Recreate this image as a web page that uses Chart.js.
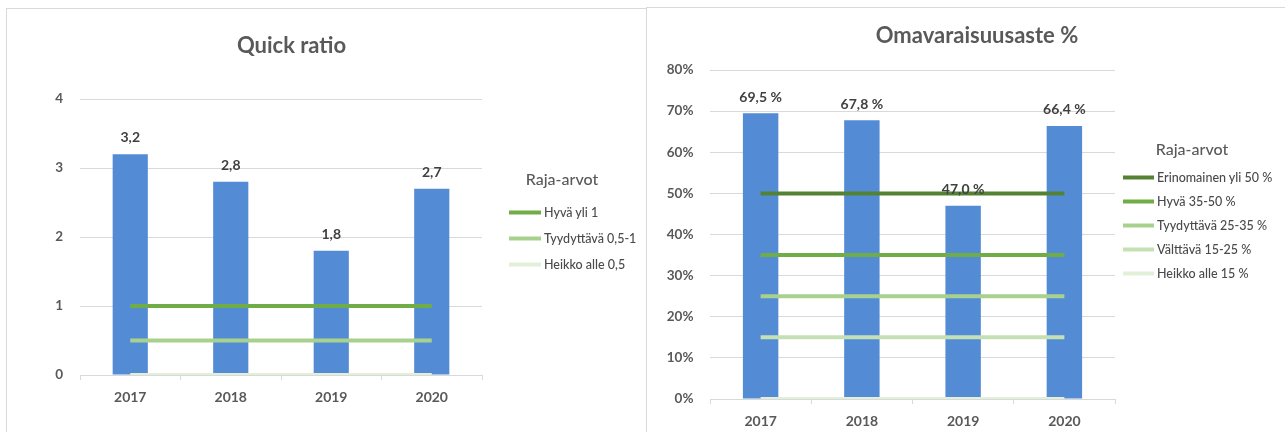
<!DOCTYPE html>
<html lang="fi">
<head>
<meta charset="utf-8">
<title>Quick ratio ja omavaraisuusaste</title>
<script src="https://cdn.jsdelivr.net/npm/chart.js@4.4.1/dist/chart.umd.min.js"></script>
<style>
  body { margin: 0; width: 1285px; height: 432px; overflow: hidden; background: #fff; position: relative; font-family: Lato, 'Open Sans', sans-serif; }
  .panel { position: absolute; height: 440px; border-left: 1px solid #d9d9d9; border-top: 1px solid #d9d9d9; }
  canvas { position: absolute; top: 0; }
  .legend-title { position: absolute; transform: translate(-50%, -50%); font-size: 16px; font-weight: 500; color: #595959; white-space: nowrap; }
  .legend-item { position: absolute; transform: translateY(-50%); display: flex; align-items: center; font-size: 12.5px; font-weight: 500; color: #4a4a4a; white-space: nowrap; }
  .legend-item .swatch { display: inline-block; height: 4px; margin-right: 3px; }
</style>
</head>
<body>
<div class="panel" style="left:6px; top:8px; width:640px;"></div>
<div class="panel" style="left:646px; top:7px; width:660px;"></div>
<canvas id="quickChart" width="583" height="432" style="left:0px;"></canvas>
<canvas id="equityChart" width="654" height="432" style="left:650px;"></canvas>
<div id="legends"></div>
<script>
// Vuodet
const years = ['2017', '2018', '2019', '2020'];

// Quick ratio
const quickValues = [3.2, 2.8, 1.8, 2.7];
const quickLimitNames = ['Hyvä yli 1', 'Tyydyttävä 0,5-1', 'Heikko alle 0,5'];
const quickLimitValues = [
    [1, 1, 1, 1],
    [0.5, 0.5, 0.5, 0.5],
    [0, 0, 0, 0]
];
const quickTicks = [0, 1, 2, 3, 4];

// Omavaraisuusaste %
const equityValues = [69.5, 67.8, 47.0, 66.4];
const equityLimitNames = ['Erinomainen yli 50 %', 'Hyvä 35-50 %', 'Tyydyttävä 25-35 %', 'Välttävä 15-25 %', 'Heikko alle 15 %'];
const equityLimitValues = [
    [50, 50, 50, 50],
    [35, 35, 35, 35],
    [25, 25, 25, 25],
    [15, 15, 15, 15],
    [0, 0, 0, 0]
];
const equityTicks = [0, 10, 20, 30, 40, 50, 60, 70, 80];

// Värit
const barColor = '#538cd5';
const quickLimitColors = ['#70ad47', '#a9d18e', '#e2f0d9'];
const equityLimitColors = ['#548235', '#70ad47', '#a9d18e', '#c5e0b4', '#e2f0d9'];

const fontFamily = "Lato, 'Open Sans', sans-serif";
const fi = v => v.toFixed(1).replace('.', ',');

// Arvot pylväiden päälle
const barLabels = {
    id: 'barLabels',
    afterDatasetsDraw(chart, args, opts) {
        const ctx = chart.ctx;
        const meta = chart.getDatasetMeta(0);
        const data = chart.data.datasets[0].data;
        ctx.save();
        ctx.font = 'bold 14px ' + fontFamily;
        ctx.fillStyle = '#404040';
        ctx.textAlign = 'center';
        ctx.textBaseline = 'middle';
        meta.data.forEach((bar, i) => {
            ctx.fillText(opts.format(data[i]), bar.x, bar.y - opts.offset);
        });
        ctx.restore();
    }
};

function makeChart(id, s) {
    const datasets = [{
        type: 'bar',
        data: s.values,
        backgroundColor: barColor,
        categoryPercentage: 1,
        barPercentage: 0.35,
        order: 1
    }];
    s.limitValues.forEach((vals, i) => {
        datasets.push({
            type: 'line',
            label: s.limitNames[i],
            data: vals,
            borderColor: s.limitColors[i],
            backgroundColor: s.limitColors[i],
            borderWidth: 4,
            pointRadius: 0,
            fill: false,
            order: 0
        });
    });

    return new Chart(document.getElementById(id), {
        type: 'bar',
        data: { labels: years, datasets: datasets },
        plugins: [barLabels],
        options: {
            responsive: false,
            animation: false,
            layout: { padding: 0 },
            plugins: {
                legend: { display: false },
                tooltip: { enabled: false },
                title: {
                    display: true,
                    text: s.title,
                    color: '#595959',
                    font: { family: fontFamily, size: 22, weight: 'bold' },
                    padding: { top: s.titleTop, bottom: s.titleBottom }
                },
                barLabels: { format: s.labelFormat, offset: s.labelOffset }
            },
            scales: {
                x: {
                    grid: { display: true, drawOnChartArea: false, drawTicks: true, tickLength: 5, color: '#d9d9d9' },
                    border: { display: true, color: '#d9d9d9' },
                    ticks: { color: '#595959', padding: 8.6, font: { family: fontFamily, size: 14, weight: 'bold' } },
                    afterFit(scale) { scale.height = s.xHeight; }
                },
                y: {
                    min: s.ticks[0],
                    max: s.ticks[s.ticks.length - 1],
                    grid: { color: '#d9d9d9', drawTicks: false },
                    border: { display: false },
                    ticks: {
                        stepSize: s.ticks[1] - s.ticks[0],
                        color: '#595959',
                        padding: s.yPad,
                        font: { family: fontFamily, size: 13.5, weight: 'bold' },
                        callback: s.tickFormat
                    },
                    afterFit(scale) { scale.width = s.yWidth; }
                },
                yr: {
                    type: 'linear',
                    position: 'right',
                    grid: { display: false },
                    border: { display: false },
                    ticks: { display: false },
                    afterFit(scale) { scale.width = s.rightWidth; }
                }
            }
        }
    });
}

function makeLegend(names, colors, p) {
    const root = document.getElementById('legends');
    const title = document.createElement('div');
    title.className = 'legend-title';
    title.textContent = 'Raja-arvot';
    title.style.left = p.titleX + 'px';
    title.style.top = p.titleY + 'px';
    root.appendChild(title);
    names.forEach((name, i) => {
        const item = document.createElement('div');
        item.className = 'legend-item';
        item.style.left = p.lineX + 'px';
        item.style.top = (p.firstY + i * p.step) + 'px';
        const sw = document.createElement('span');
        sw.className = 'swatch';
        sw.style.width = p.lineW + 'px';
        sw.style.background = colors[i];
        item.appendChild(sw);
        item.appendChild(document.createTextNode(name));
        root.appendChild(item);
    });
}

makeChart('quickChart', {
    title: 'Quick ratio',
    values: quickValues,
    limitNames: quickLimitNames,
    limitValues: quickLimitValues,
    limitColors: quickLimitColors,
    ticks: quickTicks,
    tickFormat: v => String(v),
    labelFormat: v => fi(v),
    labelOffset: 16.5,
    titleTop: 32.8,
    titleBottom: 39.8,
    xHeight: 57,
    yWidth: 80,
    yPad: 17,
    rightWidth: 101
});

makeChart('equityChart', {
    title: 'Omavaraisuusaste %',
    values: equityValues,
    limitNames: equityLimitNames,
    limitValues: equityLimitValues,
    limitColors: equityLimitColors,
    ticks: equityTicks,
    tickFormat: v => v + '%',
    labelFormat: v => fi(v) + ' %',
    labelOffset: 16,
    titleTop: 22.8,
    titleBottom: 20.8,
    xHeight: 33,
    yWidth: 60,
    yPad: 16.5,
    rightWidth: 189
});

makeLegend(quickLimitNames, quickLimitColors, { titleX: 562, titleY: 178, lineX: 509, firstY: 212, step: 26, lineW: 32 });
makeLegend(equityLimitNames, equityLimitColors, { titleX: 1192, titleY: 148, lineX: 1123, firstY: 177, step: 24, lineW: 31 });
</script>
</body>
</html>
